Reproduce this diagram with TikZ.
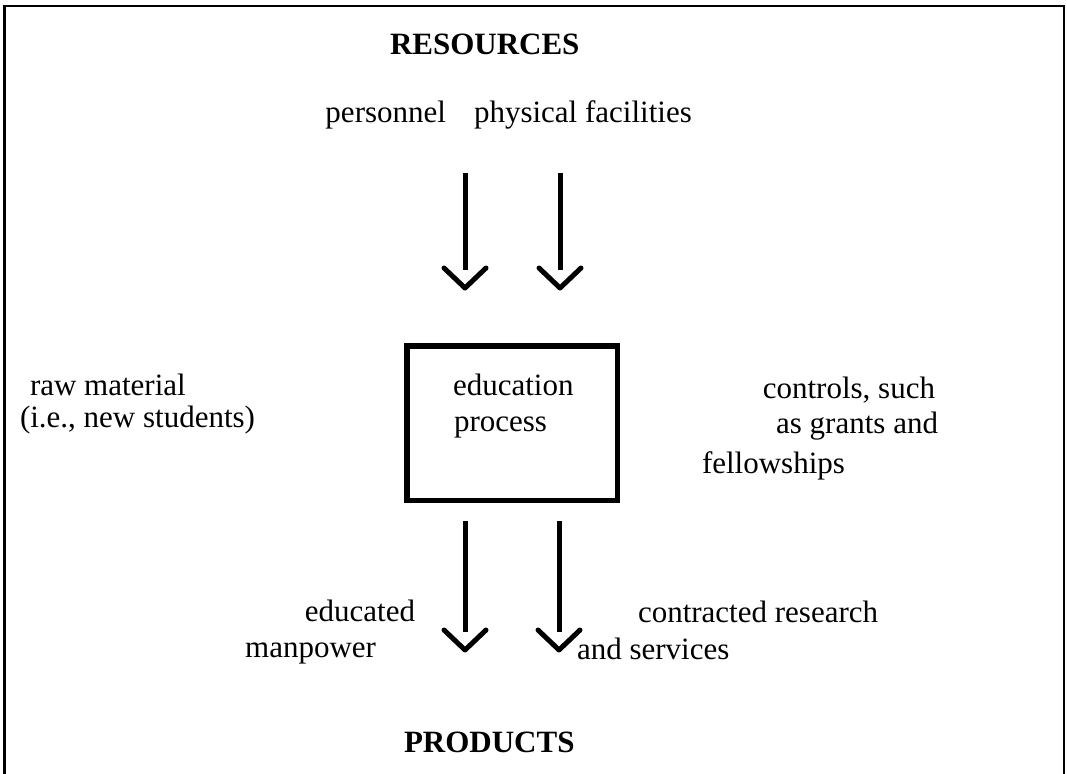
\documentclass[tikz,border=0pt]{standalone}
\usepackage{fontspec}
\setmainfont{Liberation Serif}
\begin{document}
\begin{tikzpicture}[x=1pt,y=-1pt,
  every node/.style={inner sep=0pt, outer sep=0pt, font=\fontsize{31}{35}\selectfont},
  lbl/.style={anchor=base west},
  rlbl/.style={anchor=base east},
  head/.style={font=\fontsize{31}{35}\selectfont\bfseries, anchor=base west},
  shaft/.style={line width=5pt},
  frame/.style={line width=2.5pt},
  procbox/.style={draw, line width=5.5pt, minimum width=210.5pt, minimum height=154.5pt}]
  \useasboundingbox (0,0) rectangle (1067,773);
  % outer frame (open at the bottom)
  \draw[frame] (4.5,790) -- (4.5,6) -- (1064,6) -- (1064,790);

  % headings
  \node[head] (res) at (390,55) {RESOURCES};
  \node[head] (prod) at (404,752) {PRODUCTS};

  % resources
  \node[rlbl] (pers) at (446,123) {personnel};
  \node[lbl] (phys) at (474,123) {physical facilities};

  % central process box
  \node[procbox] (box) at (512,423) {};
  \node[lbl] (edu) at (453,395) {education};
  \node[lbl] (proc) at (454,431) {process};

  % side inputs
  \node[lbl] (raw) at (30,395) {raw material};
  \node[lbl] (ie) at (20,427) {(i.e., new students)};
  \node[rlbl] (ctl) at (935,398) {controls, such};
  \node[rlbl] (grants) at (938,433) {as grants and};
  \node[lbl] (fell) at (702,473) {fellowships};

  % products
  \node[rlbl] (edud) at (415,621) {educated};
  \node[rlbl] (man) at (376,657) {manpower};
  \node[lbl] (contr) at (638,622) {contracted research};
  \node[lbl] (serv) at (577,659) {and services};

  % arrow end points (shaft start, shaft end)
  \coordinate (a1s) at (465,173); \coordinate (a1e) at (465,270);
  \coordinate (a2s) at (560,173); \coordinate (a2e) at (560,270);
  \coordinate (b1s) at (465,521); \coordinate (b1e) at (465,632);
  \coordinate (b2s) at (559,521); \coordinate (b2e) at (559,632);

  \foreach \s/\e in {a1s/a1e, a2s/a2e, b1s/b1e, b2s/b2e}{
    \draw[shaft] (\s) -- (\e);
    \draw[shaft, line join=round, line cap=round]
      ([shift={(-21,-2)}]\e) -- ([shift={(0,18)}]\e) -- ([shift={(21,-2)}]\e);
  }
\end{tikzpicture}
\end{document}
